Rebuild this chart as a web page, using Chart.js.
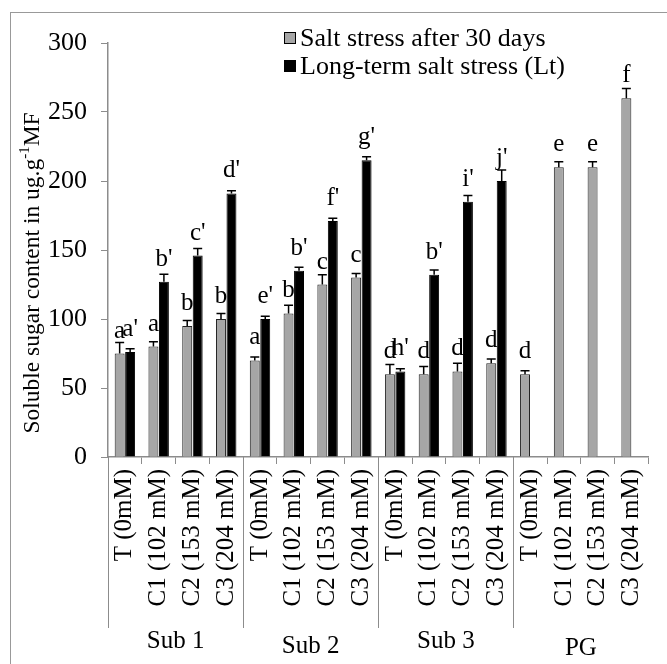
<!DOCTYPE html>
<html>
<head>
<meta charset="utf-8">
<script src="https://cdn.jsdelivr.net/npm/chart.js@4.4.1/dist/chart.umd.min.js"></script>
<style>
  html, body { margin: 0; padding: 0; background: #fff; }
  #wrap { width: 667px; height: 664px; }
</style>
</head>
<body>
<div id="wrap"><canvas id="chart"></canvas></div>
<script>
// data
var groups = ['Sub 1', 'Sub 2', 'Sub 3', 'PG'];
var doses = ['T (0mM)', 'C1 (102 mM)', 'C2 (153 mM)', 'C3 (204 mM)'];
var categories = [].concat(doses, doses, doses, doses);

var salt30 = [75, 80, 95, 100, 70, 104, 125, 130, 60, 60, 62, 68, 60, 210, 210, 260];
var salt30Err = [8, 3.5, 4, 4, 2.5, 6, 7, 3, 7, 5.5, 6, 3, 2.5, 4, 4, 7];
var salt30Letters = ['a', 'a', 'b', 'b', 'a', 'b', 'c', 'c', 'd', 'd', 'd', 'd', 'd', 'e', 'e', 'f'];

var longTerm = [76, 127, 146, 191, 100, 135, 171, 215, 62, 132, 185, 200, null, null, null, null];
var longTermErr = [2.5, 5.5, 5, 2, 2, 2.5, 2, 2.5, 2, 3.5, 4.5, 8, 0, 0, 0, 0];
var longTermLetters = ["a'", "b'", "c'", "d'", "e'", "b'", "f'", "g'", "h'", "b'", "i'", "j'", '', '', '', ''];

var yTicks = [0, 50, 100, 150, 200, 250, 300];

var FONT = '"Liberation Serif", "Times New Roman", serif';
var axisGrey = '#8c8c8c';

var errors = [salt30Err, longTermErr];
var letters = [salt30Letters, longTermLetters];

var extras = {
  id: 'extras',
  afterDatasetsDraw: function (chart) {
    var ctx = chart.ctx;
    var y = chart.scales.y;
    ctx.save();
    chart.data.datasets.forEach(function (ds, i) {
      var meta = chart.getDatasetMeta(i);
      meta.data.forEach(function (bar, j) {
        var v = ds.data[j];
        if (v === null) return;
        var top = y.getPixelForValue(v + errors[i][j]);
        ctx.strokeStyle = '#000';
        ctx.lineWidth = 1.5;
        ctx.beginPath();
        ctx.moveTo(bar.x, bar.y);
        ctx.lineTo(bar.x, top);
        ctx.moveTo(bar.x - 4.5, top);
        ctx.lineTo(bar.x + 4.5, top);
        ctx.stroke();
      });
    });
    ctx.fillStyle = '#000';
    ctx.font = '25px ' + FONT;
    ctx.textAlign = 'center';
    ctx.textBaseline = 'alphabetic';
    chart.data.datasets.forEach(function (ds, i) {
      var meta = chart.getDatasetMeta(i);
      meta.data.forEach(function (bar, j) {
        if (ds.data[j] === null || !letters[i][j]) return;
        ctx.fillText(letters[i][j], bar.x, bar.y - 16);
      });
    });
    ctx.restore();
  },
  afterDraw: function (chart) {
    var ctx = chart.ctx;
    var x = chart.scales.x;
    var area = chart.chartArea;
    ctx.save();

    // outer frame
    ctx.strokeStyle = '#999';
    ctx.lineWidth = 1;
    ctx.strokeRect(10.5, 12.5, 700, 700);

    // group separators and group names
    var step = (x.right - x.left) / categories.length;
    ctx.strokeStyle = axisGrey;
    ctx.lineWidth = 1;
    for (var g = 0; g < groups.length; g++) {
      var left = x.left + g * 4 * step;
      ctx.beginPath();
      ctx.moveTo(Math.round(left) + 0.5, area.bottom);
      ctx.lineTo(Math.round(left) + 0.5, 628);
      ctx.stroke();
    }
    ctx.fillStyle = '#000';
    ctx.font = '25px ' + FONT;
    ctx.textAlign = 'center';
    ctx.textBaseline = 'middle';
    var gy = [641, 646, 641, 648];
    groups.forEach(function (name, g) {
      var cx = x.left + (g * 4 + 2) * step;
      ctx.fillText(name, cx, gy[g]);
    });

    // legend
    ctx.textAlign = 'left';
    ctx.font = '26px ' + FONT;
    chart.data.datasets.forEach(function (ds, i) {
      var ly = 38 + i * 28;
      ctx.fillStyle = ds.backgroundColor;
      ctx.fillRect(284, ly - 6, 12, 12);
      ctx.strokeStyle = '#000';
      ctx.lineWidth = 1;
      ctx.strokeRect(284.5, ly - 5.5, 11, 11);
      ctx.fillStyle = '#000';
      ctx.fillText(ds.label, 300, ly + 1);
    });

    // y axis title with superscript
    ctx.translate(31, 273);
    ctx.rotate(-Math.PI / 2);
    var main = 'Soluble sugar content in ug.g';
    var sup = '-1';
    var tail = 'MF';
    ctx.font = '23.5px ' + FONT;
    var w1 = ctx.measureText(main).width;
    var w3 = ctx.measureText(tail).width;
    ctx.font = '15px ' + FONT;
    var w2 = ctx.measureText(sup).width;
    var start = -(w1 + w2 + w3) / 2;
    ctx.textBaseline = 'alphabetic';
    ctx.font = '23.5px ' + FONT;
    ctx.fillText(main, start, 8);
    ctx.font = '15px ' + FONT;
    ctx.fillText(sup, start + w1, -2);
    ctx.font = '23.5px ' + FONT;
    ctx.fillText(tail, start + w1 + w2, 8);
    ctx.restore();
  }
};

new Chart(document.getElementById('chart'), {
  type: 'bar',
  data: {
    labels: categories,
    datasets: [{
      label: 'Salt stress after 30 days',
      data: salt30,
      backgroundColor: '#a6a6a6',
      borderColor: '#222',
      borderWidth: 1,
      categoryPercentage: 0.62,
      barPercentage: 0.95
    }, {
      label: 'Long-term salt stress (Lt)',
      data: longTerm,
      backgroundColor: '#000',
      borderColor: '#000',
      borderWidth: 1,
      categoryPercentage: 0.62,
      barPercentage: 0.95
    }]
  },
  options: {
    responsive: true,
    maintainAspectRatio: false,
    animation: false,
    layout: { padding: { left: 0, right: 13, top: 43, bottom: 0 } },
    plugins: {
      legend: { display: false },
      tooltip: { enabled: false }
    },
    scales: {
      x: {
        grid: { display: true, drawOnChartArea: false, tickLength: 7, color: axisGrey, offset: true },
        border: { color: axisGrey, width: 1.5 },
        ticks: {
          color: '#000',
          font: { family: FONT, size: 25 },
          minRotation: 90,
          maxRotation: 90,
          autoSkip: false,
          padding: 5
        },
        afterFit: function (scale) { scale.height = 207; }
      },
      y: {
        min: 0,
        max: 300,
        afterBuildTicks: function (scale) {
          scale.ticks = yTicks.map(function (v) { return { value: v }; });
        },
        grid: { display: true, drawOnChartArea: false, tickLength: 7, color: axisGrey },
        border: { color: axisGrey, width: 1.5 },
        ticks: {
          color: '#000',
          font: { family: FONT, size: 26 },
          padding: 14
        },
        afterFit: function (scale) { scale.width = 108; }
      }
    }
  },
  plugins: [extras]
});
</script>
</body>
</html>
